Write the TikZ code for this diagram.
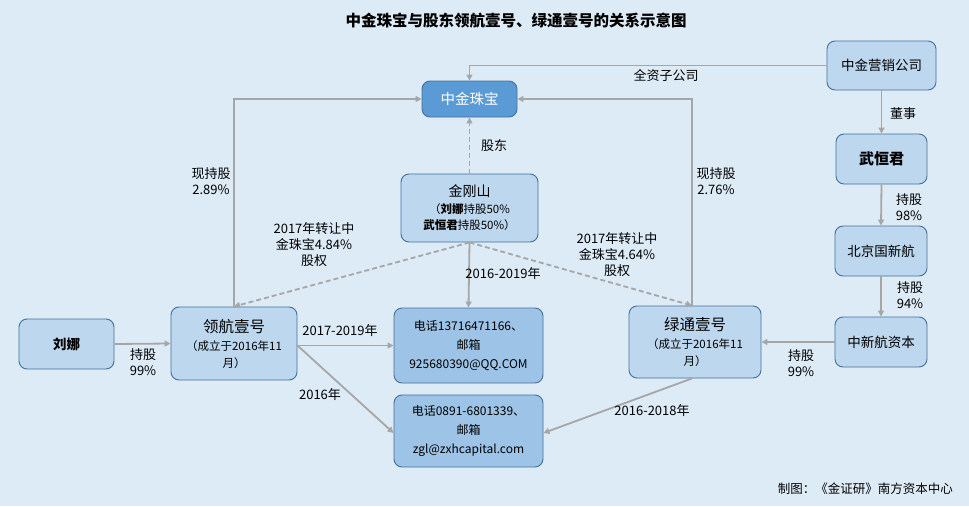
\documentclass[tikz,border=0pt]{standalone}
\usepackage{fontspec}
\setmainfont{Noto Sans CJK SC}
\usetikzlibrary{arrows.meta}
\definecolor{bg}{HTML}{DDEBF7}
\definecolor{boxfill}{HTML}{BDD7EE}
\definecolor{boxline}{HTML}{41719C}
\definecolor{darkfill}{HTML}{9DC3E6}
\definecolor{topfill}{HTML}{5B9BD5}
\definecolor{arr}{HTML}{A6A6A6}
\newcommand\subsz{\fontsize{11.5}{14}\selectfont}
\tikzset{
 box/.style={draw=boxline, fill=boxfill, rounded corners=8pt, line width=0.9pt, align=center, inner sep=0pt, font=\fontsize{13.5}{16}\selectfont},
 conn/.style={draw=arr, line width=1.8pt, -{Triangle[width=6pt,length=6pt]}},
 dconn/.style={conn, dash pattern=on 5pt off 3pt},
 lbl/.style={align=center, font=\fontsize{13}{16}\selectfont, text=black, inner sep=0pt},
}
\begin{document}
\begin{tikzpicture}[x=1pt,y=-1pt]
\fill[bg] (0,0) rectangle (969,506);
\useasboundingbox (0,0) rectangle (969,506);

\node[lbl, font=\fontsize{15.5}{18}\selectfont\bfseries] (title) at (516,21) {中金珠宝与股东领航壹号、绿通壹号的关系示意图};

\node[box, minimum width=95, minimum height=36, fill=topfill, text=white, font=\fontsize{14.5}{17}\selectfont] (zj) at (469.5,99) {中金珠宝};
\node[box, minimum width=109, minimum height=49] (yx) at (881.5,65.5) {中金营销公司};
\node[box, minimum width=91, minimum height=50, font=\fontsize{15}{17}\selectfont\bfseries] (wh) at (881.5,159) {武恒君};
\node[box, minimum width=92, minimum height=50] (bj) at (881,251) {北京国新航};
\node[box, minimum width=92, minimum height=50] (zxh) at (881,342) {中新航资本};
\node[box, minimum width=132, minimum height=72, font=\fontsize{15.5}{17}\selectfont] (lt) at (695,342) {绿通壹号\\[1pt]{\subsz（成立于2016年11}\\{\subsz 月）}};
\node[box, minimum width=137, minimum height=68, font=\fontsize{14}{16}\selectfont] (jgs) at (469.5,208) {金刚山\\[1pt]{\subsz（\textbf{刘娜}持股50\%}\\{\subsz \textbf{武恒君}持股50\%）}};
\node[box, minimum width=126, minimum height=73, font=\fontsize{15.5}{17}\selectfont] (lh) at (234,343.5) {领航壹号\\[1pt]{\subsz（成立于2016年11}\\{\subsz 月）}};
\node[box, minimum width=95, minimum height=50, font=\fontsize{13.5}{16}\selectfont\bfseries] (ln) at (66.5,344) {刘娜};
\node[box, minimum width=149, minimum height=75, fill=darkfill, font=\fontsize{12}{19}\selectfont] (ph1) at (468.5,345.5) {电话13716471166、\\邮箱\\925680390@QQ.COM};
\node[box, minimum width=149, minimum height=72, fill=darkfill, font=\fontsize{12}{19}\selectfont] (ph2) at (468.5,431) {电话0891-6801339、\\邮箱\\zgl@zxhcapital.com};

\coordinate (lhout) at (lh.east |- ph1.west);

\draw[conn] (yx.west) -| (zj.north);
\draw[conn] (lh.north) |- (zj.west);
\draw[conn] ([xshift=-3pt]lt.north) |- (zj.east);
\draw[dconn] (jgs.north) -- (zj.south);
\draw[dconn] (jgs.south) -- (lh.north);
\draw[dconn] (jgs.south) -- ([xshift=-3pt]lt.north);
\draw[conn] (jgs.south) -- (ph1.north);
\draw[conn] (lhout) -- (ph1.west);
\draw[conn] (lhout) -- ([yshift=-2pt]ph2.west);
\draw[conn] ([xshift=-3pt]lt.south) -- ([yshift=-2pt]ph2.east);
\draw[conn] (yx.south) -- (wh.north);
\draw[conn] (wh.south) -- (bj.north);
\draw[conn] (bj.south) -- (zxh.north);
\draw[conn] (zxh.west) -- (lt.east);
\draw[conn] (ln.east) -- (lh.west);

\node[lbl] (l1) at (666,76) {全资子公司};
\node[lbl] (l2) at (211,181) {现持股\\2.89\%};
\node[lbl] (l3) at (716,181) {现持股\\2.76\%};
\node[lbl] (l4) at (494,146) {股东};
\node[lbl] (l5) at (314,245) {2017年转让中\\金珠宝4.84\%\\股权};
\node[lbl] (l6) at (617,255) {2017年转让中\\金珠宝4.64\%\\股权};
\node[lbl] (l7) at (503,274) {2016-2019年};
\node[lbl] (l8) at (340,331) {2017-2019年};
\node[lbl] (l9) at (320,395) {2016年};
\node[lbl] (l10) at (652,411) {2016-2018年};
\node[lbl] (l11) at (903,114) {董事};
\node[lbl] (l12) at (909,207) {持股\\98\%};
\node[lbl] (l13) at (910,295) {持股\\94\%};
\node[lbl] (l14) at (801,363) {持股\\99\%};
\node[lbl] (l15) at (143,362) {持股\\99\%};
\node[lbl, anchor=east, font=\fontsize{12.5}{15}\selectfont] (foot) at (953,489) {制图：《金证研》南方资本中心};
\end{tikzpicture}
\end{document}
